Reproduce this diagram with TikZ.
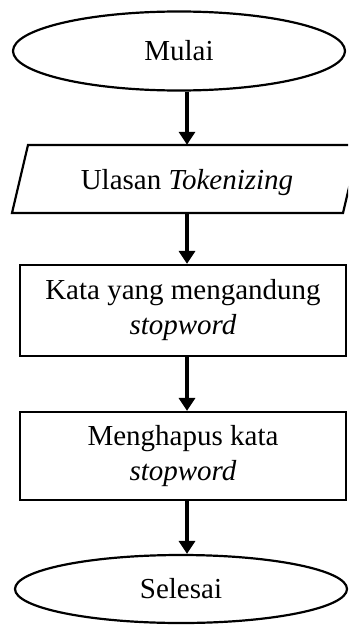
\documentclass[tikz,border=0pt]{standalone}
\usepackage{fontspec}
\setmainfont{Liberation Serif}
\usetikzlibrary{shapes.geometric,arrows.meta}
\begin{document}
\begin{tikzpicture}[x=1pt,y=-1pt,
  every node/.style={font=\fontsize{29}{35}\selectfont, align=center},
  terminal/.style={ellipse, draw, line width=2.2pt, inner sep=0pt},
  process/.style={rectangle, draw, line width=2.2pt, inner sep=0pt},
  outline/.style={draw, line width=2.2pt, line join=miter},
  flow/.style={line width=3.6pt, -{Triangle[length=13pt,width=16pt]}}]
\useasboundingbox (0,0) rectangle (348,626);
\clip (0,0) rectangle (348,626);
\coordinate (axis) at (187,0);

% start terminal
\node[terminal, minimum width=332pt, minimum height=79pt] (start) at (179,51) {Mulai};

% input parallelogram
\draw[outline] (28,145) -- (359,145) -- (343,213) -- (12,213) -- cycle;
\node[minimum width=300pt, minimum height=68pt, inner sep=0pt] (inp) at (185.5,179) {};
\node (inplabel) at (187,183) {Ulasan \textit{Tokenizing}};

% processes
\node[process, minimum width=326pt, minimum height=91pt] (find) at (183,310.5)
  {Kata yang mengandung\\\textit{stopword}};
\node[process, minimum width=326pt, minimum height=88pt] (remove) at (183,456)
  {Menghapus kata\\\textit{stopword}};

% end terminal
\node[terminal, minimum width=332pt, minimum height=68pt] (stop) at (181,589) {Selesai};

% connectors
\draw[flow] (start.south -| axis) -- (inp.north -| axis);
\draw[flow] (inp.south -| axis) -- (find.north -| axis);
\draw[flow] (find.south -| axis) -- (remove.north -| axis);
\draw[flow] (remove.south -| axis) -- (stop.north -| axis);
\end{tikzpicture}
\end{document}
